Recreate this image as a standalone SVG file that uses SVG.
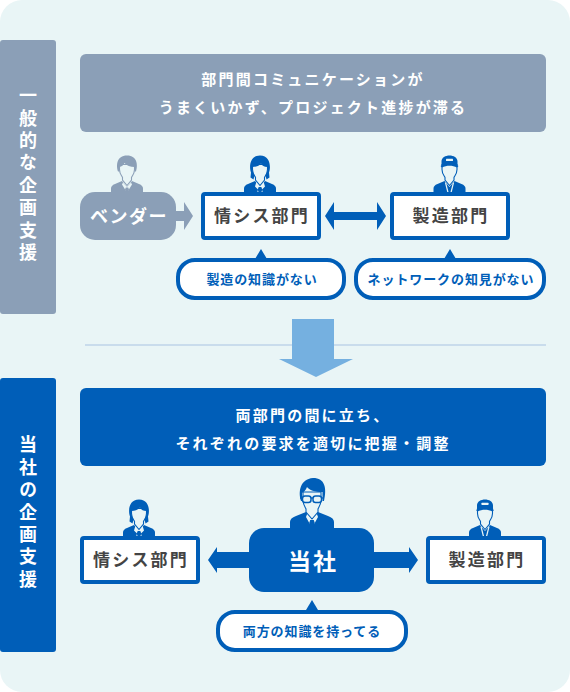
<svg xmlns="http://www.w3.org/2000/svg" width="570" height="692" viewBox="0 0 570 692">
<style>
text{font-family:"Noto Sans CJK JP","Noto Sans",sans-serif;text-anchor:middle}
.g{fill:#8b9fb7}.b{fill:#005eb8}
.head{font-size:15px;font-weight:700;fill:#fff;letter-spacing:2.200px}
.side{font-size:18px;font-weight:700;fill:#fff;letter-spacing:4.400px;writing-mode:vertical-rl}
.box{fill:#fff;stroke:#005eb8;stroke-width:4}
.lab{font-size:17px;font-weight:700;fill:#444;letter-spacing:2.200px}
.bub{font-size:13px;font-weight:700;fill:#005eb8;letter-spacing:.9px}
.face{fill:#e9f5f6;stroke:currentColor;stroke-width:1.100}
</style>
<defs>
<path id="neck" d="M-7.500 9V14C-7.500 18-5.500 20-4.500 22V24.500L0 30 4.500 24.500V22C5.500 20 7.500 18 7.500 14V9Z" class="face"/>
<g id="female">
<path d="M-16 37V33q0-3 4-4.500l7-3 5 6 5-6 7 3q4 1.500 4 4.500v4z" fill="currentColor"/>
<path d="M-3.500 26L0 30l3.500-4 1.500 5-3 3 .8 3h-5.600l.8-3-3-3z" fill="#e9f5f6"/>
<path d="M-1.300 31.500h2.600l1 2.500-1 3h-2.600l-1-3z" fill="currentColor"/>
<use href="#neck"/>
<path d="M-9 17C-11 12-10.500 0 0 0S11 12 9 17L9.500 22 6.500 24 5.500 20 7.500 15V11.500C4 11.500 2 10 1 8-1 10.500-4 11.500-7.500 11.500V15L-5.500 20-6.500 24-9.500 22Z" fill="currentColor"/>
</g>
<g id="male">
<path d="M-16 37V33q0-3 4-4.500l7-3 5 6 5-6 7 3q4 1.500 4 4.500v4z" fill="currentColor"/>
<path d="M-4 27l4 4.500 4-4.500 1 2-5 8-5-8z" fill="#e9f5f6"/>
<path d="M-1.200 32h2.400l.8 2-1 3h-2l-1-3z" fill="currentColor"/>
<use href="#neck"/>
<path d="M-9 16C-11 10-10.500 0 0 0S11 10 9 16L7.500 16V11.500C3.500 11.500-.5 10-2.500 7.500-3.500 10-5.500 11-7.500 11.500V16Z" fill="currentColor"/>
</g>
<g id="worker">
<path d="M-16 37V33q0-3 4-4.500l7-3 5 6 5-6 7 3q4 1.500 4 4.500v4z" fill="currentColor"/>
<path d="M-4 27L-1.500 37M4 27L1.500 37" stroke="#e9f5f6" stroke-width="1.200" fill="none"/>
<use href="#neck"/>
<path d="M-8 10V6C-8 2-4 0 0 0S8 2 8 6V10L9 10.500 7.500 12C3 9.500-3 9.500-7.500 12L-9 10.500Z" fill="currentColor"/>
<rect x="-3.500" y="3.200" width="7" height="2.200" rx=".5" fill="#e9f5f6"/>
</g>
<g id="boss">
<path d="M-22 50V44q0-4 6-6l10-4 6 9 6-9 10 4q6 2 6 6v6z" fill="currentColor"/>
<path d="M-4.500 35L0 41l4.500-6 1.500 4-6 11-6-11z" fill="#e9f5f6"/>
<path d="M-1.800 42h3.600l1 3-1.400 5h-2.800l-1.400-5z" fill="currentColor"/>
<path d="M-9 14V22C-9 26-7 29-6 31V34L0 41 6 34V31C7 29 9 26 9 22V14Z" class="face"/>
<path d="M-11 23C-14 14-12 1 1 0 13 0 15 10 12 23L10.500 23V14C3 14-3 12-5 9-6 12-8 14-10 15V23Z" fill="currentColor"/>
<path d="M-12 20H12" stroke="currentColor" stroke-width="1.300"/>
<rect x="-9.500" y="18" width="8.500" height="6.500" rx="2.500" fill="#e9f5f6" stroke="currentColor" stroke-width="1.500"/>
<rect x="1" y="18" width="8.500" height="6.500" rx="2.500" fill="#e9f5f6" stroke="currentColor" stroke-width="1.500"/>
</g>
</defs>
<rect id="background" width="570" height="692" rx="22" fill="#e9f5f6"/>
<g id="side-1"><rect y="40" width="56" height="274" rx="3" class="g"/>
<text class="side" x="28" y="176">一般的な企画支援</text></g>
<g id="side-2"><rect y="378" width="56" height="274" rx="3" class="b"/>
<text class="side" x="28" y="514">当社の企画支援</text></g>
<g id="connectors">
<path d="M85 345H546" stroke="#c9dcec" stroke-width="2" fill="none"/>
<path d="M292 319h42v40h19l-37 18-37-18h13z" fill="#75b0e0"/>
<path d="M176 211h8v-9l9 14-9 14v-9h-8z" class="g"/>
<path d="M325 216l9-14v10h43v-10l9 14-9 14v-10h-43v10z" class="b"/>
<path d="M208 560l9-13v5h33v16h-33v5z" class="b"/>
<path d="M374 552h35v-5l9 13-9 13v-5h-35z" class="b"/>
</g>
<g id="top-banner"><rect x="80" y="54" width="466" height="78" rx="6" class="g"/>
<text class="head" x="313" y="85">部門間コミュニケーションが</text><text class="head" x="313" y="113">うまくいかず、プロジェクト進捗が滞る</text></g>
<g id="vendor"><use href="#male" x="127" y="155.500" color="#8b9fb7"/><rect x="80" y="192" width="96" height="48" rx="15" class="g"/><text x="129" y="223" font-size="18" font-weight="700" fill="#fff" letter-spacing="1.500">ベンダー</text></g>
<g id="info-1"><use href="#female" x="260" y="155.500" color="#005eb8"/><rect x="203" y="194" width="116" height="44" rx="2" class="box"/><text class="lab" x="262" y="222">情シス部門</text></g>
<g id="mfg-1"><use href="#worker" x="449.500" y="155.500" color="#005eb8"/><rect x="392" y="194" width="116" height="44" rx="2" class="box"/><text class="lab" x="451" y="222">製造部門</text></g>
<g id="bubble-1"><path d="M261 249l6 10h-12z" class="b"/><rect x="178" y="260" width="166" height="38" rx="17" class="box"/><text class="bub" x="262" y="284">製造の知識がない</text></g>
<g id="bubble-2"><path d="M450 249l6 10h-12z" class="b"/><rect x="356" y="260" width="188" height="38" rx="17" class="box"/><text class="bub" x="451" y="284">ネットワークの知見がない</text></g>
<g id="bottom-banner"><rect x="80" y="388" width="466" height="78" rx="6" class="b"/>
<text class="head" x="313" y="421">両部門の間に立ち、</text><text class="head" x="313" y="449">それぞれの要求を適切に把握・調整</text></g>
<g id="info-2"><use href="#female" x="139" y="499.500" color="#005eb8"/><rect x="82" y="538" width="116" height="44" rx="2" class="box"/><text class="lab" x="141" y="566">情シス部門</text></g>
<g id="us"><use href="#boss" x="312" y="478" color="#005eb8"/><rect x="249" y="528" width="125" height="64" rx="15" class="b"/><text x="313" y="570" font-size="23" font-weight="700" fill="#fff" letter-spacing="2">当社</text></g>
<g id="mfg-2"><use href="#worker" x="485" y="499.500" color="#005eb8"/><rect x="428" y="538" width="116" height="44" rx="2" class="box"/><text class="lab" x="487" y="566">製造部門</text></g>
<g id="bubble-3"><path d="M312 600l6 10h-12z" class="b"/><rect x="218" y="612" width="188" height="38" rx="17" class="box"/><text class="bub" x="312" y="636">両方の知識を持ってる</text></g>
</svg>
